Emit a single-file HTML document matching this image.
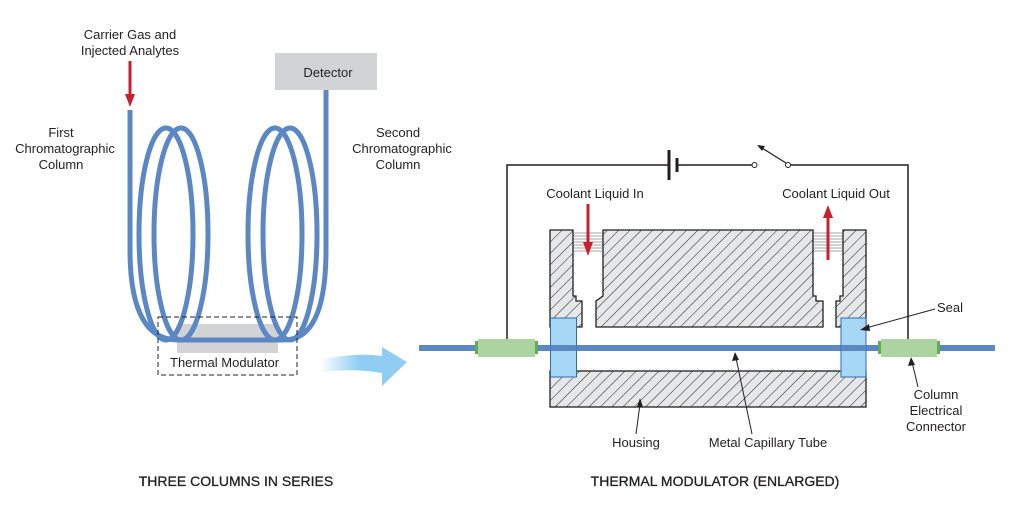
<!DOCTYPE html>
<html><head><meta charset="utf-8"><style>
html,body{margin:0;padding:0;background:#fff;}
svg{display:block;}
text{font-family:"Liberation Sans",sans-serif;font-size:13px;fill:#231f20;}
</style></head><body>
<svg width="1012" height="524" viewBox="0 0 1012 524" xmlns="http://www.w3.org/2000/svg">
<defs>
<pattern id="h" patternUnits="userSpaceOnUse" width="8" height="8" patternTransform="rotate(45)">
<rect width="8" height="8" fill="#e6e7e8"/><line x1="0" y1="0" x2="0" y2="8" stroke="#231f20" stroke-width="1"/>
</pattern>
<linearGradient id="ag" x1="0" x2="1" y1="0" y2="0"><stop offset="0" stop-color="#8fcdf2" stop-opacity="0"/><stop offset="0.45" stop-color="#8fcdf2"/><stop offset="1" stop-color="#8fcdf2"/></linearGradient>
</defs>

<text x="130" y="39" text-anchor="middle">Carrier Gas and</text>
<text x="130" y="55" text-anchor="middle">Injected Analytes</text>
<line x1="130" y1="61" x2="130" y2="95" stroke="#c8202f" stroke-width="3"/>
<polygon points="125,94 135,94 130,107" fill="#c8202f"/>
<text x="61" y="137" text-anchor="middle">First</text>
<text x="65" y="153" text-anchor="middle">Chromatographic</text>
<text x="61" y="169" text-anchor="middle">Column</text>
<text x="398" y="137" text-anchor="middle">Second</text>
<text x="402" y="153" text-anchor="middle">Chromatographic</text>
<text x="398" y="169" text-anchor="middle">Column</text>
<rect x="275" y="53" width="102" height="37" fill="#d1d3d4"/>
<text x="328" y="77" text-anchor="middle">Detector</text>

<rect x="177" y="324" width="101" height="29" fill="#d1d3d4"/>

<g fill="none" stroke="#5b88c5" stroke-width="5">
<path d="M130,110 L130,250 Q130,340 178,340 L284,340 Q326,340 326,250 L326,90"/>
<ellipse cx="166" cy="234" rx="27" ry="106"/>
<ellipse cx="181" cy="234" rx="27" ry="106"/>
<ellipse cx="275" cy="234" rx="27" ry="106"/>
<ellipse cx="290" cy="234" rx="27" ry="106"/>
</g>
<rect x="158" y="317" width="139" height="58" fill="none" stroke="#231f20" stroke-width="1" stroke-dasharray="5,3"/>
<text x="170" y="367">Thermal Modulator</text>

<path d="M320,360 Q355,352 382,356 L382,347 L407,362 L382,386 L382,373 Q355,368 320,372 Z" fill="url(#ag)"/>

<g stroke="#231f20" stroke-width="1.5" fill="none">
<polyline points="507,340 507,165 669,165"/>
<line x1="677" y1="165" x2="752" y2="165"/>
<polyline points="790,165 908,165 908,340"/>
</g>
<line x1="669" y1="150" x2="669" y2="180" stroke="#231f20" stroke-width="3"/>
<line x1="677" y1="158" x2="677" y2="172" stroke="#231f20" stroke-width="3"/>
<circle cx="754.5" cy="165" r="2.5" fill="#fff" stroke="#231f20" stroke-width="1"/>
<circle cx="788" cy="165" r="2.5" fill="#fff" stroke="#231f20" stroke-width="1"/>
<line x1="786" y1="163" x2="762" y2="148" stroke="#231f20" stroke-width="1.2"/>
<polygon points="757,145 765,146 762,151" fill="#231f20"/>

<text x="595" y="198" text-anchor="middle">Coolant Liquid In</text>
<text x="836" y="198" text-anchor="middle">Coolant Liquid Out</text>

<g stroke="#888" stroke-width="0.8">
<line x1="573" y1="233" x2="603" y2="233"/><line x1="573" y1="236" x2="603" y2="236"/><line x1="573" y1="239" x2="603" y2="239"/><line x1="573" y1="242" x2="603" y2="242"/><line x1="573" y1="245" x2="603" y2="245"/><line x1="573" y1="248" x2="603" y2="248"/><line x1="573" y1="251" x2="603" y2="251"/>
<line x1="813" y1="233" x2="843" y2="233"/><line x1="813" y1="236" x2="843" y2="236"/><line x1="813" y1="239" x2="843" y2="239"/><line x1="813" y1="242" x2="843" y2="242"/><line x1="813" y1="245" x2="843" y2="245"/><line x1="813" y1="248" x2="843" y2="248"/><line x1="813" y1="251" x2="843" y2="251"/>
</g>

<g fill="url(#h)" stroke="#231f20" stroke-width="1.3">
<polygon points="550,230 573,230 573,296 576,296 576,301 582,301 582,327 550,327"/>
<polygon points="603,230 813,230 813,296 816,296 816,301 823,301 823,327 596,327 596,301 603,296"/>
<polygon points="843,230 866,230 866,327 836,327 836,301 840,301 840,296 843,296"/>
<rect x="550" y="371" width="316" height="36"/>
</g>

<line x1="588" y1="204" x2="588" y2="243" stroke="#c8202f" stroke-width="3"/>
<polygon points="583,242 593,242 588,256" fill="#c8202f"/>
<line x1="828" y1="217" x2="828" y2="260" stroke="#c8202f" stroke-width="3"/>
<polygon points="823,218 833,218 828,205" fill="#c8202f"/>

<rect x="419" y="345" width="576" height="6" fill="#5b88c5"/>
<rect x="550.5" y="318" width="26" height="59" fill="#a6d8f5" stroke="#2c6db3" stroke-width="1"/>
<rect x="841" y="318" width="25" height="59" fill="#a6d8f5" stroke="#2c6db3" stroke-width="1"/>
<rect x="550.5" y="345" width="26" height="6" fill="#5b88c5"/>
<rect x="841" y="345" width="25" height="6" fill="#5b88c5"/>
<rect x="475" y="341" width="63" height="13" fill="#5fae4f"/>
<rect x="478" y="339" width="57" height="18" fill="#add3a0"/>
<rect x="878" y="341" width="62" height="13" fill="#5fae4f"/>
<rect x="881" y="339" width="56" height="18" fill="#add3a0"/>

<g stroke="#231f20" stroke-width="1">
<line x1="935" y1="309" x2="866" y2="328"/>
<line x1="918" y1="387" x2="912" y2="362"/>
<line x1="636" y1="434" x2="640" y2="404"/>
<line x1="752" y1="434" x2="736" y2="358"/>
</g>
<polygon points="860,330 869,324 870,331" fill="#231f20"/>
<polygon points="911,357 908,366 915,365" fill="#231f20"/>
<polygon points="640,398 637,407 643,407" fill="#231f20"/>
<polygon points="735,352 732,361 739,360" fill="#231f20"/>

<text x="950" y="312" text-anchor="middle">Seal</text>
<text x="936" y="399" text-anchor="middle">Column</text>
<text x="936" y="415" text-anchor="middle">Electrical</text>
<text x="936" y="431" text-anchor="middle">Connector</text>
<text x="636" y="447" text-anchor="middle">Housing</text>
<text x="768" y="447" text-anchor="middle">Metal Capillary Tube</text>

<text x="236" y="486" text-anchor="middle" style="font-size:14px;stroke:#231f20;stroke-width:0.3">THREE COLUMNS IN SERIES</text>
<text x="715" y="486" text-anchor="middle" style="font-size:14px;stroke:#231f20;stroke-width:0.3">THERMAL MODULATOR (ENLARGED)</text>
</svg>
</body></html>
